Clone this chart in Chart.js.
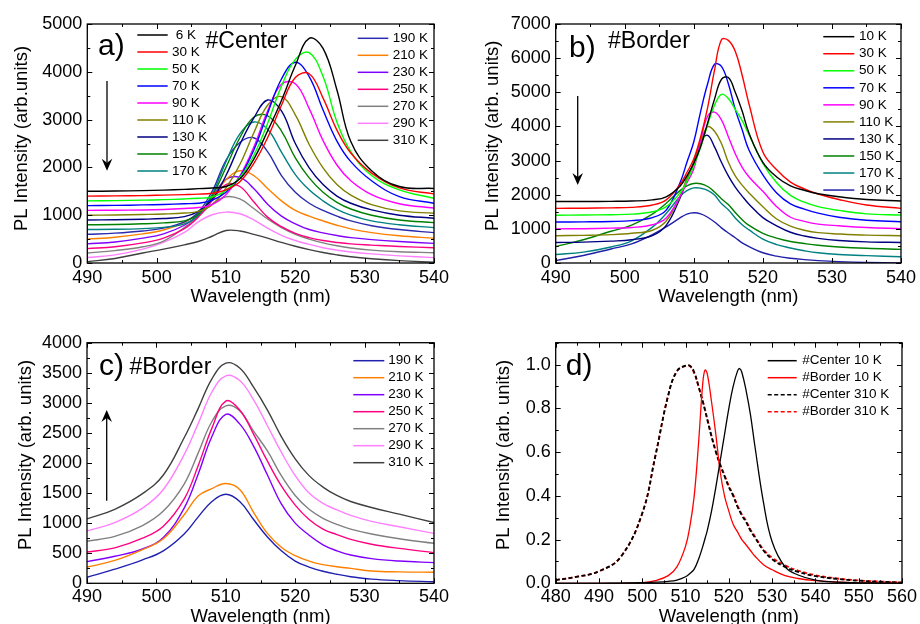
<!DOCTYPE html>
<html>
<head>
<meta charset="utf-8">
<script src="https://cdn.jsdelivr.net/npm/chart.js@4.4.1/dist/chart.umd.min.js"></script>
<style>
  html, body { margin: 0; padding: 0; background: #fff; overflow: hidden; width: 920px; height: 624px; }
  canvas { position: absolute; }
</style>
</head>
<body>
<canvas id="chartA" width="460" height="310" style="left:0;top:0"></canvas>
<canvas id="chartB" width="460" height="310" style="left:460px;top:0"></canvas>
<canvas id="chartC" width="460" height="330" style="left:0;top:310px"></canvas>
<canvas id="chartD" width="460" height="330" style="left:460px;top:310px"></canvas>
<script>
// wavelength grid (nm) for panels a and c
const wavelengths = [490, 494, 498, 501, 504, 506, 508, 510, 512, 514, 516, 518, 520, 522, 524, 526, 528, 531, 535, 540];
// finer grid for panel b (narrow peaks)
const wavelengthsB = [490, 494, 498, 501, 504, 506, 508, 509, 510, 511, 512, 513, 514, 515, 516, 517, 518, 520, 522, 524, 526, 528, 531, 535, 540];

// a) #Center, 6 K .. 310 K
const centerLabels = [' 6 K', '30 K', '50 K', '70 K', '90 K', '110 K', '130 K', '150 K', '170 K',
  '190 K', '210 K', '230 K', '250 K', '270 K', '290 K', '310 K'];
const center6   = [1500, 1505, 1515, 1525, 1540, 1555, 1570, 1600, 1760, 2170, 2760, 3400, 4130, 4700, 4490, 3620, 2540, 1930, 1600, 1560];
const center30  = [1400, 1405, 1410, 1420, 1430, 1440, 1460, 1530, 1700, 2080, 2620, 3300, 3880, 3960, 3450, 2780, 2300, 1880, 1570, 1445];
const center50  = [1300, 1305, 1315, 1325, 1340, 1355, 1380, 1520, 1790, 2250, 2920, 3700, 4260, 4400, 3900, 2950, 2330, 1830, 1530, 1355];
const center70  = [1200, 1205, 1215, 1225, 1240, 1250, 1310, 1480, 1800, 2360, 3130, 3850, 4200, 3900, 3200, 2550, 2120, 1720, 1390, 1250];
const center90  = [1100, 1105, 1110, 1120, 1140, 1160, 1220, 1430, 1820, 2420, 3180, 3740, 3750, 3230, 2560, 2050, 1720, 1430, 1240, 1150];
const center110 = [1000, 1005, 1015, 1025, 1045, 1080, 1220, 1570, 2060, 2720, 3300, 3480, 3100, 2480, 1990, 1640, 1420, 1220, 1090, 1040];
const center130 = [900, 905, 915, 930, 970, 1080, 1330, 1830, 2480, 3030, 3410, 3180, 2500, 1990, 1640, 1400, 1250, 1110, 1000, 935];
const center150 = [800, 805, 820, 840, 880, 1020, 1400, 2000, 2620, 3050, 3080, 2760, 2200, 1780, 1480, 1270, 1130, 1000, 900, 845];
const center170 = [700, 705, 720, 745, 820, 1000, 1430, 2120, 2700, 2950, 2800, 2320, 1850, 1530, 1300, 1120, 1000, 880, 800, 740];
const center190 = [600, 625, 670, 730, 860, 1060, 1500, 2150, 2520, 2620, 2330, 1830, 1480, 1250, 1100, 980, 880, 780, 700, 635];
const center210 = [500, 540, 610, 690, 850, 1040, 1350, 1740, 1930, 1830, 1560, 1300, 1100, 980, 880, 790, 715, 635, 570, 520];
const center230 = [400, 440, 520, 610, 790, 1010, 1370, 1750, 1790, 1560, 1230, 980, 820, 700, 630, 575, 530, 490, 450, 410];
const center250 = [300, 340, 420, 520, 720, 960, 1300, 1640, 1600, 1280, 960, 760, 620, 530, 470, 430, 400, 375, 345, 320];
const center270 = [210, 260, 340, 460, 740, 980, 1230, 1385, 1340, 1140, 920, 740, 600, 500, 420, 360, 315, 270, 235, 215];
const center290 = [115, 170, 290, 430, 640, 860, 1010, 1065, 1030, 900, 730, 580, 470, 390, 320, 270, 230, 190, 150, 112];
const center310 = [25, 95, 210, 290, 380, 450, 560, 680, 670, 600, 520, 430, 350, 280, 220, 170, 130, 90, 50, 15];

// b) #Border, 10 K .. 190 K (on wavelengthsB)
const borderLowLabels = ['10 K', '30 K', '50 K', '70 K', '90 K', '110 K', '130 K', '150 K', '170 K', '190 K'];
const border10  = [1800, 1800, 1805, 1815, 1850, 1940, 2250, 2550, 2920, 3420, 4100, 4800, 5380, 5430, 5000, 4450, 3800, 2950, 2520, 2260, 2130, 2030, 1940, 1860, 1815];
const border30  = [1600, 1605, 1615, 1630, 1700, 1850, 2300, 2650, 3050, 3700, 4550, 5650, 6540, 6520, 6200, 5500, 4650, 3250, 2730, 2370, 2170, 2020, 1860, 1700, 1600];
const border50  = [1400, 1405, 1415, 1430, 1500, 1650, 2050, 2400, 2850, 3400, 4050, 4620, 4940, 4820, 4500, 4170, 3750, 2920, 2350, 1980, 1780, 1650, 1540, 1440, 1405];
const border70  = [1200, 1205, 1215, 1240, 1330, 1550, 2350, 2950, 3550, 4450, 5250, 5820, 5760, 5250, 4500, 3900, 3300, 2580, 2050, 1730, 1580, 1460, 1340, 1250, 1210];
const border90  = [1000, 1005, 1020, 1040, 1120, 1320, 1950, 2350, 2760, 3600, 4300, 4420, 4190, 3700, 3200, 2800, 2520, 2100, 1650, 1340, 1220, 1140, 1090, 1040, 1005];
const border110 = [800, 810, 830, 870, 960, 1230, 1950, 2480, 2920, 3550, 3990, 3860, 3500, 2950, 2550, 2280, 2050, 1650, 1290, 1080, 960, 890, 850, 815, 800];
const border130 = [600, 610, 640, 680, 800, 1100, 1900, 2450, 2950, 3550, 3740, 3400, 2950, 2550, 2220, 1960, 1720, 1330, 1090, 900, 790, 720, 660, 620, 600];
const border150 = [480, 680, 930, 1110, 1430, 1750, 2120, 2260, 2330, 2320, 2240, 2080, 1880, 1710, 1480, 1270, 1100, 870, 730, 630, 570, 520, 470, 430, 400];
const border170 = [250, 320, 470, 650, 1050, 1450, 1950, 2120, 2200, 2190, 2130, 1990, 1740, 1560, 1320, 1120, 970, 700, 540, 440, 360, 300, 250, 215, 185];
const border190 = [70, 220, 410, 560, 830, 1060, 1320, 1430, 1470, 1440, 1340, 1200, 1030, 880, 740, 590, 480, 300, 200, 140, 100, 70, 40, 15, 0];

// c) #Border, 190 K .. 310 K
const borderHighLabels = ['190 K', '210 K', '230 K', '250 K', '270 K', '290 K', '310 K'];
const borderHot190 = [100, 235, 390, 540, 820, 1100, 1360, 1480, 1360, 1060, 770, 540, 370, 270, 200, 150, 110, 70, 45, 25];
const borderHot210 = [270, 380, 560, 740, 1140, 1450, 1575, 1660, 1560, 1180, 830, 600, 460, 370, 310, 275, 248, 205, 190, 183];
const borderHot230 = [360, 450, 570, 760, 1250, 1810, 2440, 2810, 2650, 2280, 1800, 1320, 1000, 800, 640, 540, 470, 410, 370, 343];
const borderHot250 = [520, 590, 750, 950, 1400, 1950, 2580, 3030, 2880, 2480, 2030, 1620, 1300, 1060, 900, 810, 730, 650, 580, 510];
const borderHot270 = [700, 780, 960, 1200, 1650, 2160, 2690, 2950, 2870, 2530, 2200, 1790, 1460, 1230, 1080, 980, 900, 820, 740, 665];
const borderHot290 = [870, 1010, 1250, 1560, 2140, 2650, 3180, 3450, 3370, 3050, 2620, 2180, 1790, 1500, 1330, 1220, 1130, 1030, 940, 830];
const borderHot310 = [1070, 1230, 1490, 1800, 2420, 2900, 3400, 3660, 3580, 3260, 2880, 2440, 2070, 1790, 1600, 1460, 1360, 1260, 1150, 1010];

// d) normalised spectra
const wavelengthsD = [480, 485, 490, 495, 500, 503, 506, 508, 510, 511, 512, 513, 514, 514.5, 515, 516, 517, 518, 519, 520,
  521, 522, 522.5, 523, 524, 525, 526, 528, 530, 533, 536, 540, 545, 550, 555, 560];
const normLabels = ['#Center 10 K', '#Border 10 K', '#Center 310 K', '#Border 310 K'];
const normCenter10 = [0, 0, 0, 0.001, 0.003, 0.005, 0.009, 0.015, 0.03, 0.045, 0.065, 0.11, 0.17, 0.205, 0.24, 0.33, 0.44, 0.56, 0.68, 0.8,
  0.9, 0.97, 0.982, 0.965, 0.88, 0.77, 0.63, 0.37, 0.19, 0.075, 0.038, 0.015, 0.005, 0.002, 0.001, 0];
const normBorder10 = [0, 0, 0, 0, 0.003, 0.012, 0.035, 0.075, 0.17, 0.26, 0.4, 0.64, 0.92, 0.975, 0.96, 0.83, 0.68, 0.51, 0.4, 0.33,
  0.27, 0.235, 0.217, 0.2, 0.175, 0.15, 0.125, 0.085, 0.062, 0.035, 0.022, 0.012, 0.005, 0.002, 0.001, 0];
const normCenter310 = [0.015, 0.03, 0.055, 0.12, 0.32, 0.58, 0.86, 0.97, 0.995, 0.995, 0.965, 0.9, 0.83, 0.79, 0.75, 0.67, 0.6, 0.54, 0.49, 0.44,
  0.4, 0.35, 0.33, 0.31, 0.28, 0.24, 0.21, 0.15, 0.11, 0.075, 0.052, 0.033, 0.02, 0.012, 0.007, 0.003];
const normBorder310 = [0.015, 0.03, 0.055, 0.12, 0.32, 0.58, 0.86, 0.97, 0.994, 0.993, 0.96, 0.9, 0.83, 0.795, 0.755, 0.675, 0.605, 0.545, 0.495, 0.445,
  0.405, 0.355, 0.335, 0.315, 0.285, 0.245, 0.215, 0.155, 0.117, 0.082, 0.058, 0.037, 0.022, 0.013, 0.008, 0.004];

// Origin-like colour cycle
const colorsA = ['#000000', '#ff0000', '#00ff00', '#0000ff', '#ff00ff', '#808000', '#000080', '#008000', '#008080',
  '#2b2bb0', '#ff8000', '#8000ff', '#ff0080', '#808080', '#ff80ff', '#404040'];
const colorsB = colorsA.slice(0, 9).concat(['#2020a8']);
const colorsC = ['#2020b0', '#ff8000', '#8000ff', '#ff0080', '#808080', '#ff80ff', '#404040'];

const FONT = '"Liberation Sans", Arial, sans-serif';
Chart.defaults.font.family = FONT;
Chart.defaults.color = '#000';

function toPoints(xs, ys) {
  return xs.map((x, i) => ({ x: x, y: ys[i] }));
}

// box + inward major/minor ticks on all four sides
const frameTicks = {
  id: 'frameTicks',
  afterDatasetsDraw(chart, args, o) {
    const ctx = chart.ctx, a = chart.chartArea, x = chart.scales.x, y = chart.scales.y;
    ctx.save();
    ctx.strokeStyle = '#000';
    ctx.lineWidth = 1;
    ctx.beginPath();
    const nx = Math.round((x.max - x.min) / o.xMinor);
    for (let i = 0; i <= nx; i++) {
      const px = Math.round(x.getPixelForValue(x.min + i * o.xMinor)) + 0.5;
      const len = i % o.xEvery === 0 ? 5 : 3;
      ctx.moveTo(px, a.bottom); ctx.lineTo(px, a.bottom - len);
      ctx.moveTo(px, a.top); ctx.lineTo(px, a.top + len);
    }
    const ny = Math.round((y.max - y.min) / o.yMinor);
    for (let i = 0; i <= ny; i++) {
      const py = Math.round(y.getPixelForValue(y.min + i * o.yMinor)) + 0.5;
      const len = i % o.yEvery === 0 ? 5 : 3;
      ctx.moveTo(a.left, py); ctx.lineTo(a.left + len, py);
      ctx.moveTo(a.right, py); ctx.lineTo(a.right - len, py);
    }
    ctx.stroke();
    ctx.lineWidth = 1.3;
    ctx.strokeRect(a.left, a.top, a.right - a.left, a.bottom - a.top);
    ctx.restore();
  }
};

// panel letter, sample name, y title, in-plot legend and arrow
const decor = {
  id: 'decor',
  afterDraw(chart, args, o) {
    const ctx = chart.ctx;
    ctx.save();
    ctx.fillStyle = '#000';
    ctx.textAlign = 'left';
    ctx.textBaseline = 'alphabetic';
    ctx.font = '30px ' + FONT;
    ctx.fillText(o.letter[0], o.letter[1], o.letter[2]);
    if (o.name) {
      ctx.font = '23px ' + FONT;
      ctx.fillText(o.name[0], o.name[1], o.name[2]);
    }

    ctx.save();
    ctx.translate(o.yTitle[1], o.yTitle[2]);
    ctx.rotate(-Math.PI / 2);
    ctx.textAlign = 'center';
    ctx.textBaseline = 'middle';
    ctx.font = '18.5px ' + FONT;
    ctx.fillText(o.yTitle[0], 0, 0);
    ctx.restore();

    ctx.font = '13.5px ' + FONT;
    ctx.textBaseline = 'middle';
    o.legend.forEach(col => {
      for (let i = col.from; i < col.to; i++) {
        const ds = chart.data.datasets[i];
        const yy = col.y + (i - col.from) * col.dy;
        ctx.strokeStyle = ds.borderColor;
        ctx.lineWidth = ds.borderDash ? 1.6 : 1.5;
        ctx.setLineDash(ds.borderDash || []);
        ctx.beginPath();
        ctx.moveTo(col.x, yy);
        ctx.lineTo(col.x + col.len, yy);
        ctx.stroke();
        ctx.setLineDash([]);
        ctx.fillText(ds.label, col.x + col.len + col.gap, yy);
      }
    });

    if (o.arrow) {
      const ax = o.arrow.x, tail = o.arrow.tail, tip = o.arrow.tip;
      const dir = tip > tail ? 1 : -1;
      ctx.strokeStyle = '#000';
      ctx.lineWidth = 1.3;
      ctx.beginPath();
      ctx.moveTo(ax, tail);
      ctx.lineTo(ax, tip - dir * 8);
      ctx.stroke();
      ctx.beginPath();
      ctx.moveTo(ax, tip);
      ctx.lineTo(ax - 5.3, tip - dir * 12);
      ctx.lineTo(ax, tip - dir * 8);
      ctx.lineTo(ax + 5.3, tip - dir * 12);
      ctx.closePath();
      ctx.fill();
    }
    ctx.restore();
  }
};

Chart.register(frameTicks, decor);

function panelOptions(p) {
  return {
    responsive: false,
    animation: false,
    layout: { padding: { top: p.top, right: p.right, left: 0, bottom: 0 } },
    elements: {
      point: { radius: 0 },
      line: { tension: 0.4, borderWidth: 1.4 }
    },
    scales: {
      x: {
        type: 'linear', min: p.xMin, max: p.xMax,
        grid: { display: false, drawTicks: false }, border: { display: false },
        ticks: { stepSize: 10, maxRotation: 0, autoSkip: false, includeBounds: false, padding: p.xPad,
          font: { size: 18 }, callback: v => String(v) },
        title: { display: true, text: 'Wavelength (nm)', font: { size: 18.5 }, padding: { top: 0, bottom: p.xTitlePad } },
        afterFit: s => { s.height = p.xH; }
      },
      y: {
        type: 'linear', min: 0, max: p.yMax,
        grid: { display: false, drawTicks: false }, border: { display: false },
        ticks: { stepSize: p.yStep, includeBounds: false, padding: 5, font: { size: 18 }, callback: p.yFmt },
        afterFit: s => { s.width = p.yW; }
      }
    },
    plugins: {
      legend: { display: false },
      tooltip: { enabled: false },
      frameTicks: p.ticks,
      decor: p.decor
    }
  };
}

function lineSets(xs, labels, series, colors) {
  return series.map((ys, i) => ({
    label: labels[i],
    data: toPoints(xs, ys),
    borderColor: colors[i],
    fill: false
  }));
}

function initCharts() {
  // a) #Center
  new Chart(document.getElementById('chartA'), {
    type: 'line',
    data: {
      datasets: lineSets(wavelengths, centerLabels,
        [center6, center30, center50, center70, center90, center110, center130, center150, center170,
         center190, center210, center230, center250, center270, center290, center310], colorsA)
    },
    options: panelOptions({
      top: 24, right: 26, yW: 87.3, xH: 47, xPad: 4, xTitlePad: 2,
      xMin: 490, xMax: 540, yMax: 5000, yStep: 1000, yFmt: v => String(v),
      ticks: { xMinor: 5, xEvery: 2, yMinor: 500, yEvery: 2 },
      decor: {
        letter: ['a)', 98, 55], name: ['#Center', 205.5, 48],
        yTitle: ['PL Intensity (arb.units)', 21.5, 138.5],
        legend: [
          { from: 0, to: 9, x: 137.3, y: 35, dy: 17, len: 30.4, gap: 4.3 },
          { from: 9, to: 16, x: 357.7, y: 38.3, dy: 17, len: 30.6, gap: 4.4 }
        ],
        arrow: { x: 107, tail: 81, tip: 170.7 }
      }
    })
  });

  // b) #Border, low temperature
  new Chart(document.getElementById('chartB'), {
    type: 'line',
    data: {
      datasets: lineSets(wavelengthsB, borderLowLabels,
        [border10, border30, border50, border70, border90, border110, border130, border150, border170, border190], colorsB)
    },
    options: panelOptions({
      top: 24, right: 18, yW: 95.7, xH: 47, xPad: 4, xTitlePad: 2,
      xMin: 490, xMax: 540, yMax: 7000, yStep: 1000, yFmt: v => String(v),
      ticks: { xMinor: 5, xEvery: 2, yMinor: 500, yEvery: 2 },
      decor: {
        letter: ['b)', 109, 57], name: ['#Border', 148, 48],
        yTitle: ['PL Intensity (arb. units)', 33, 135.8],
        legend: [{ from: 0, to: 10, x: 363.3, y: 36.7, dy: 17.04, len: 31, gap: 4.7 }],
        arrow: { x: 117.7, tail: 96, tip: 185 }
      }
    })
  });

  // c) #Border, high temperature
  new Chart(document.getElementById('chartC'), {
    type: 'line',
    data: {
      datasets: lineSets(wavelengths, borderHighLabels,
        [borderHot190, borderHot210, borderHot230, borderHot250, borderHot270, borderHot290, borderHot310], colorsC)
    },
    options: panelOptions({
      top: 32.7, right: 26, yW: 87, xH: 56.7, xPad: 3, xTitlePad: 12.4,
      xMin: 490, xMax: 540, yMax: 4000, yStep: 500, yFmt: v => String(v),
      ticks: { xMinor: 5, xEvery: 2, yMinor: 250, yEvery: 2 },
      decor: {
        letter: ['c)', 99, 65], name: ['#Border', 129.5, 64.3],
        yTitle: ['PL Intensity (arb. units)', 25.7, 145],
        legend: [{ from: 0, to: 7, x: 353.3, y: 50.7, dy: 17, len: 31, gap: 4 }],
        arrow: { x: 106.7, tail: 190.7, tip: 100 }
      }
    })
  });

  // d) normalised comparison
  const dSets = lineSets(wavelengthsD, normLabels, [normCenter10, normBorder10, normCenter310, normBorder310],
    ['#000000', '#ff0000', '#000000', '#ff0000']);
  dSets[0].borderWidth = 1.3;
  dSets[1].borderWidth = 1.3;
  dSets[2].borderDash = [4, 2.5];
  dSets[2].borderWidth = 1.8;
  dSets[3].borderDash = [4, 2.5];
  dSets[3].borderWidth = 1.8;
  new Chart(document.getElementById('chartD'), {
    type: 'line',
    data: { datasets: dSets },
    options: panelOptions({
      top: 32.7, right: 18, yW: 95.7, xH: 56.7, xPad: 3, xTitlePad: 12.4,
      xMin: 480, xMax: 560, yMax: 1.1, yStep: 0.2, yFmt: v => v.toFixed(1),
      ticks: { xMinor: 5, xEvery: 2, yMinor: 0.1, yEvery: 2 },
      decor: {
        letter: ['d)', 105.7, 65],
        yTitle: ['PL Intensity (arb. units)', 43.7, 145],
        legend: [{ from: 0, to: 4, x: 307.7, y: 50.7, dy: 17, len: 29, gap: 5.6 }]
      }
    })
  });
}

document.addEventListener('DOMContentLoaded', initCharts);
</script>
</body>
</html>
